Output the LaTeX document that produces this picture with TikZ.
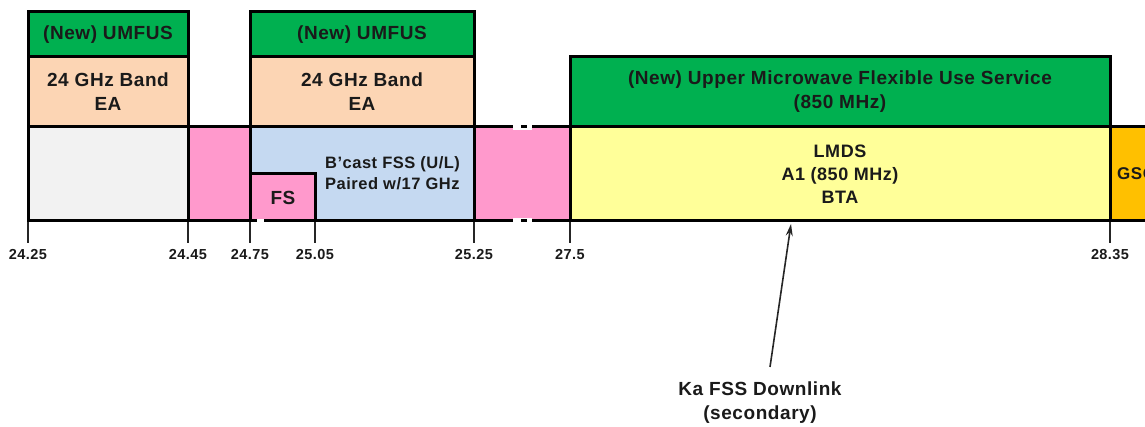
\documentclass[tikz,border=0pt]{standalone}
\usepackage{fontspec}
\setmainfont[LetterSpace=3]{Liberation Sans}
\usetikzlibrary{arrows.meta}
\definecolor{umgreen}{HTML}{00B050}
\definecolor{peach}{HTML}{FCD5B4}
\definecolor{cgray}{HTML}{F2F2F2}
\definecolor{cpink}{HTML}{FF99CC}
\definecolor{cblue}{HTML}{C5D9F1}
\definecolor{cyellow}{HTML}{FFFF99}
\definecolor{corange}{HTML}{FFC000}
\definecolor{txt}{HTML}{1A1A1A}
\begin{document}
\begin{tikzpicture}[x=1pt,y=-1pt,
  band/.style={draw=black,line width=3pt},
  lbl/.style={font=\bfseries\fontsize{19}{24}\selectfont, align=center, inner sep=0pt, text=txt},
  small/.style={font=\bfseries\fontsize{16.5}{21}\selectfont, align=left, inner sep=0pt, text=txt},
  tk/.style={font=\bfseries\fontsize{14.5}{17}\selectfont, inner sep=0pt, text=txt},
  tick/.style={line width=1.3pt, draw=black!85},
  arr/.style={-{Stealth[length=12pt,width=7pt]}, line width=1.6pt, draw=black!85}]
\useasboundingbox (0,0) rectangle (1145,427);
% band row
\filldraw[fill=cgray, band] (28,127) rectangle (188,221);
\filldraw[fill=cpink, band] (188,127) rectangle (250,221);
\filldraw[fill=cblue, band] (250,127) rectangle (474,221);
\filldraw[fill=cpink, band] (250,174) rectangle (315,221);
\filldraw[fill=cpink, band] (474,127) rectangle (570,221);
\filldraw[fill=cyellow, band] (570,127) rectangle (1110,221);
\filldraw[fill=corange, band] (1110,127) rectangle (1170,221);
% upper boxes
\filldraw[fill=umgreen, band] (28,12) rectangle (188,57);
\filldraw[fill=peach, band] (28,57) rectangle (188,127);
\filldraw[fill=umgreen, band] (250,12) rectangle (474,57);
\filldraw[fill=peach, band] (250,57) rectangle (474,127);
\filldraw[fill=umgreen, band] (570,57) rectangle (1110,127);
% breaks
\fill[white] (513,124) rectangle (532,130);
\draw[line width=3pt] (521,127) -- (527,127);
\fill[white] (513,218) rectangle (532,224);
\draw[line width=3pt] (521,221) -- (527,221);
\fill[white] (257,219) rectangle (264,223);
% ticks
\foreach \x/\v [count=\i] in {28/24.25,188/24.45,250/24.75,315/25.05,474/25.25,570/27.5,1110/28.35}{
  \draw[tick] (\x,222.5) -- (\x,243);
  \node[tk] (t\i) at (\x,255) {\v};
}
% texts
\node[lbl] (u1) at (108,35) {(New) UMFUS};
\node[lbl] (b1) at (108,92) {24 GHz Band\\EA};
\node[lbl] (u2) at (362,35) {(New) UMFUS};
\node[lbl] (b2) at (362,92) {24 GHz Band\\EA};
\node[lbl] (u3) at (840,92) {(New) Upper Microwave Flexible Use Service\\(850 MHz)};
\node[small, anchor=west] (bc) at (325,173) {B'cast FSS (U/L)\\Paired w/17 GHz};
\node[lbl] (fs) at (283,198) {FS};
\node[lbl, font=\bfseries\fontsize{18}{23}\selectfont] (lm) at (840,174) {LMDS\\A1 (850 MHz)\\BTA};
\node[lbl, anchor=west, font=\bfseries\fontsize{17}{21}\selectfont] (gso) at (1117,174) {GSO};
\coordinate (tip) at (791,224);
\node[lbl] (ka) at (760,403) {Ka FSS Downlink\\(secondary)};
\draw[arr] ([xshift=10pt,yshift=15pt]ka.north) -- (tip);
\end{tikzpicture}
\end{document}
